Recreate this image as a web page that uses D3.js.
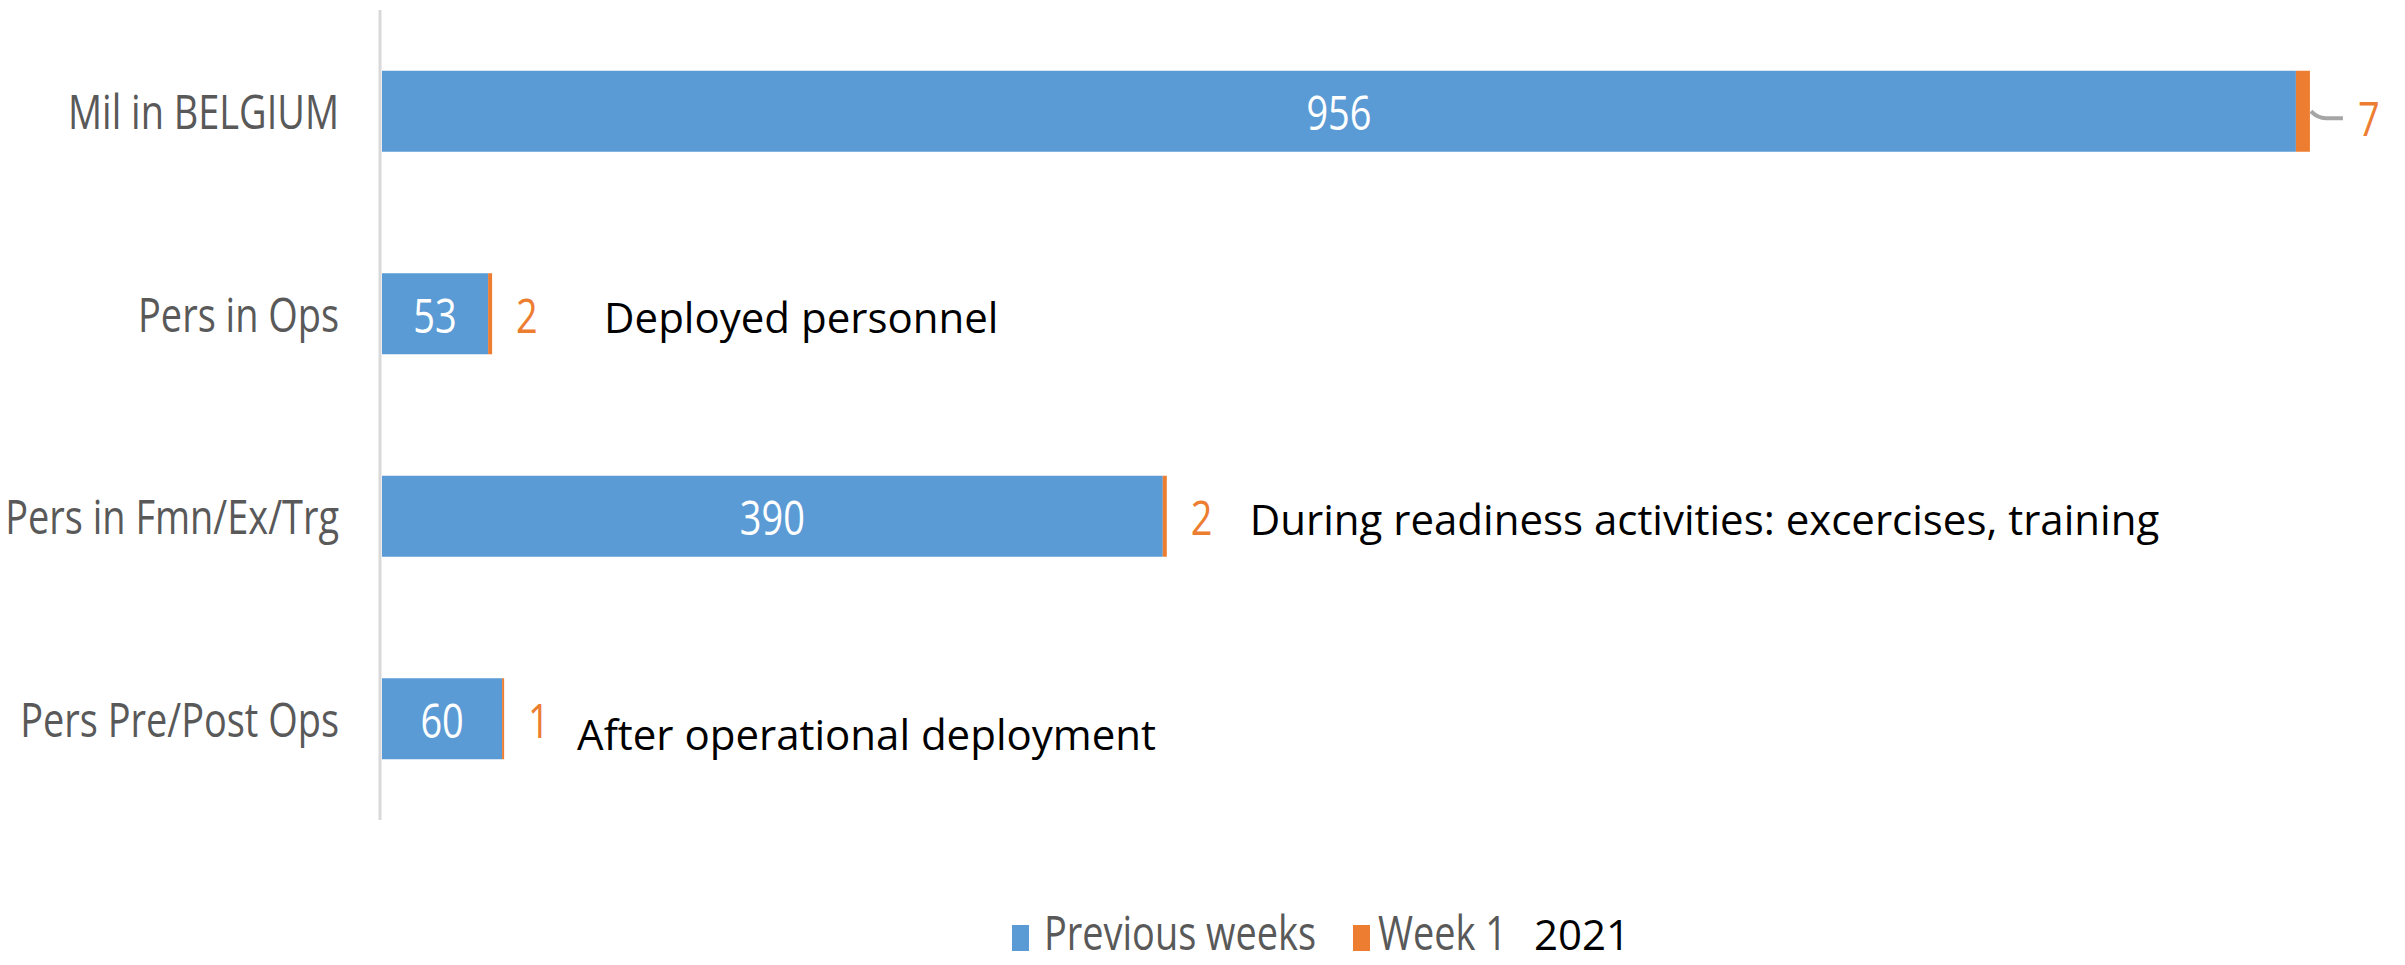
<!DOCTYPE html>
<html>
<head>
<meta charset="utf-8">
<script src="https://cdn.jsdelivr.net/npm/d3@7"></script>
<style>
  html, body { margin: 0; padding: 0; background: #fff; }
  .lbl { font-family: "Open Sans", "Noto Sans", sans-serif; font-size: 48px; }
  .note { font-family: "Open Sans", "Noto Sans", sans-serif; font-size: 42px; fill: #000; }
</style>
</head>
<body>
<div id="chart"></div>
<script>
var categories = ["Mil in BELGIUM", "Pers in Ops", "Pers in Fmn/Ex/Trg", "Pers Pre/Post Ops"];
var previousWeeks = [956, 53, 390, 60];
var week1 = [7, 2, 2, 1];
var seriesNames = ["Previous weeks", "Week 1"];
var notes = [null, "Deployed personnel", "During readiness activities: excercises, training", "After operational deployment"];

// where the free text boxes sit, relative to the end of each bar
var noteDx = [0, 112, 83, 73],
    noteDy = [0, 19, 19, 31];

var w = 2405,
    h = 965,
    sx = 0.79, // chart labels look horizontally squeezed
    blue = "#5B9BD5",
    orange = "#ED7D31",
    grey = "#595959";

var svg = d3.select("#chart").append("svg").attr("width", w).attr("height", h);

var x = d3.scaleLinear().domain([0, 1000]).range([382, 2384]);
var y = d3.scaleBand().domain(categories).range([10, 820]).paddingInner(0.6).paddingOuter(0.3);

var rows = categories.map(function (c, i) {
    return { cat: c, prev: previousWeeks[i], wk: week1[i], note: notes[i], i: i };
});

function place(px, py) {
    return "translate(" + px + "," + py + ") scale(" + sx + ",1)";
}

// category axis
var yAxis = svg.append("g")
    .attr("transform", "translate(380,0)")
    .call(d3.axisLeft(y).tickSize(0));
yAxis.select(".domain").remove();
yAxis.selectAll("text")
    .attr("class", "lbl")
    .attr("fill", grey)
    .attr("x", 0)
    .attr("dy", "0.35em")
    .attr("transform", place(-41, 1));

svg.append("line")
    .attr("x1", 380).attr("x2", 380)
    .attr("y1", 10).attr("y2", 820)
    .attr("stroke", "#D9D9D9")
    .attr("stroke-width", 3);

var bars = svg.append("g");

bars.selectAll("rect.prev")
    .data(rows)
    .join("rect")
    .attr("class", "prev")
    .attr("x", x(0))
    .attr("y", function (d) { return y(d.cat); })
    .attr("width", function (d) { return x(d.prev) - x(0); })
    .attr("height", y.bandwidth())
    .attr("fill", blue);

bars.selectAll("rect.wk")
    .data(rows)
    .join("rect")
    .attr("class", "wk")
    .attr("x", function (d) { return x(d.prev); })
    .attr("y", function (d) { return y(d.cat); })
    .attr("width", function (d) { return x(d.prev + d.wk) - x(d.prev); })
    .attr("height", y.bandwidth())
    .attr("fill", orange);

// white values inside the blue bars
svg.append("g").selectAll("text")
    .data(rows)
    .join("text")
    .attr("class", "lbl")
    .attr("transform", function (d) {
        return place((x(0) + x(d.prev)) / 2, y(d.cat) + y.bandwidth() / 2 + 2);
    })
    .attr("dy", "0.35em")
    .attr("text-anchor", "middle")
    .attr("fill", "#fff")
    .text(function (d) { return d.prev; });

// orange week values; the first one is pushed out with a leader line
var first = rows[0];
var ly = y(first.cat) + y.bandwidth() / 2;
var lx = x(first.prev + first.wk);
svg.append("path")
    .attr("d", "M" + (lx + 1) + "," + ly + " Q" + (lx + 8) + "," + (ly + 7) + " " + (lx + 16) + "," + (ly + 7) + " L" + (lx + 33) + "," + (ly + 7))
    .attr("fill", "none")
    .attr("stroke", "#A6A6A6")
    .attr("stroke-width", 4);

svg.append("g").selectAll("text")
    .data(rows)
    .join("text")
    .attr("class", "lbl")
    .attr("transform", function (d) {
        return place(x(d.prev + d.wk) + (d.i === 0 ? 48 : 24), y(d.cat) + y.bandwidth() / 2 + (d.i === 0 ? 8 : 2));
    })
    .attr("dy", "0.35em")
    .attr("fill", orange)
    .text(function (d) { return d.wk; });

// annotations
svg.append("g").selectAll("text")
    .data(rows.filter(function (d) { return d.note; }))
    .join("text")
    .attr("class", "note")
    .attr("x", function (d) { return x(d.prev + d.wk) + noteDx[d.i]; })
    .attr("y", function (d) { return y(d.cat) + y.bandwidth() / 2 + noteDy[d.i]; })
    .text(function (d) { return d.note; });

// legend
var legend = svg.append("g");
var legY = 950,
    swatchX = [1012, 1353],
    legTextX = [1044, 1378];
seriesNames.forEach(function (s, i) {
    legend.append("rect")
        .attr("x", swatchX[i]).attr("y", legY - 25)
        .attr("width", 17).attr("height", 26)
        .attr("fill", i === 0 ? blue : orange);
    legend.append("text")
        .attr("class", "lbl")
        .attr("transform", place(legTextX[i], legY))
        .attr("fill", grey)
        .text(s);
});
legend.append("text")
    .attr("class", "note")
    .attr("x", 1534).attr("y", legY)
    .text("2021");
</script>
</body>
</html>
